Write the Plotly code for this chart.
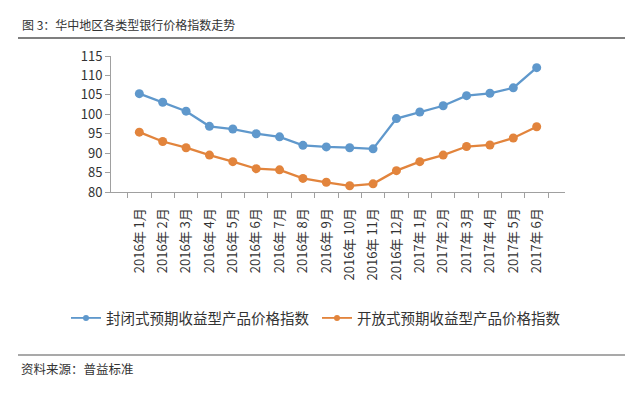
import plotly.graph_objects as go

categories = ["2016年 1月", "2016年 2月", "2016年 3月", "2016年 4月", "2016年 5月", "2016年 6月",
              "2016年 7月", "2016年 8月", "2016年 9月", "2016年 10月", "2016年 11月", "2016年 12月",
              "2017年 1月", "2017年 2月", "2017年 3月", "2017年 4月", "2017年 5月", "2017年 6月"]
closed_idx = [105.3, 103.1, 100.8, 96.9, 96.2, 95.0, 94.2, 92.0, 91.6, 91.4, 91.1, 98.9,
              100.6, 102.2, 104.8, 105.4, 106.8, 112.0]
open_idx = [95.4, 93.0, 91.4, 89.5, 87.8, 86.0, 85.7, 83.5, 82.5, 81.6, 82.1, 85.5,
            87.8, 89.5, 91.7, 92.1, 93.9, 96.8]
series_names = ["封闭式预期收益型产品价格指数", "开放式预期收益型产品价格指数"]
y_ticks = [80, 85, 90, 95, 100, 105, 110, 115]

FONT = "Noto Sans CJK SC, Noto Sans, sans-serif"
BLUE = "#5f98cc"
ORANGE = "#e2843c"

fig = go.Figure()
for vals, name, col in [(closed_idx, series_names[0], BLUE), (open_idx, series_names[1], ORANGE)]:
    fig.add_trace(go.Scatter(x=categories, y=vals, name=name, mode="lines+markers", showlegend=False,
                             line=dict(color=col, width=2.3), marker=dict(size=9, color=col)))
# legend-only entries with the smaller legend glyphs
for name, col in [(series_names[0], BLUE), (series_names[1], ORANGE)]:
    fig.add_trace(go.Scatter(x=[None], y=[None], name=name, mode="lines+markers", showlegend=True,
                             line=dict(color=col, width=1.8), marker=dict(size=6, color=col)))

L, R, T, B = 111, 565, 56, 192
W, H = R - L, B - T

def px(x):
    return (x - L) / W

def py(y):
    return (B - y) / H

fig.update_layout(
    width=640, height=396,
    margin=dict(l=L, r=640 - R, t=T, b=396 - B, autoexpand=False),
    paper_bgcolor="white", plot_bgcolor="white",
    font=dict(family=FONT, color="#333333"),
    showlegend=True,
    legend=dict(orientation="h", xref="paper", yref="paper", x=px(66), y=py(318),
                xanchor="left", yanchor="middle", font=dict(size=14.5, color="#333333", family=FONT),
                itemwidth=30, entrywidth=206, tracegroupgap=0, bgcolor="rgba(0,0,0,0)"),
    xaxis=dict(type="category", showgrid=False, showline=True, linecolor="#a0a0a0", linewidth=1,
               ticks="outside", tickson="boundaries", ticklen=5, tickcolor="#a0a0a0",
               tickangle=-90, tickfont=dict(size=13, color="#333333", family=FONT),
               ticklabelstandoff=10, zeroline=False, automargin=False),
    yaxis=dict(range=[80, 115], tickvals=y_ticks, showgrid=False, showline=True,
               linecolor="#a0a0a0", linewidth=1, ticks="outside", ticklen=5, tickcolor="#a0a0a0",
               tickfont=dict(size=13, color="#333333", family=FONT), zeroline=False, automargin=False),
    annotations=[
        dict(text="图 3：华中地区各类型银行价格指数走势", xref="paper", yref="paper",
             x=px(20), y=py(25), xanchor="left", yanchor="middle", showarrow=False,
             font=dict(size=12, color="#333333", family=FONT)),
        dict(text="资料来源：普益标准", xref="paper", yref="paper",
             x=px(19), y=py(368), xanchor="left", yanchor="middle", showarrow=False,
             font=dict(size=12.5, color="#333333", family=FONT)),
    ],
    shapes=[
        dict(type="line", xref="paper", yref="paper", x0=px(18), x1=px(625), y0=py(38), y1=py(38),
             line=dict(color="#555555", width=1.5)),
        dict(type="line", xref="paper", yref="paper", x0=px(18), x1=px(625), y0=py(355), y1=py(355),
             line=dict(color="#555555", width=1.2)),
    ],
)

fig.write_html("out.html", config={"displayModeBar": False},
               post_script="document.body.style.margin='0';")
